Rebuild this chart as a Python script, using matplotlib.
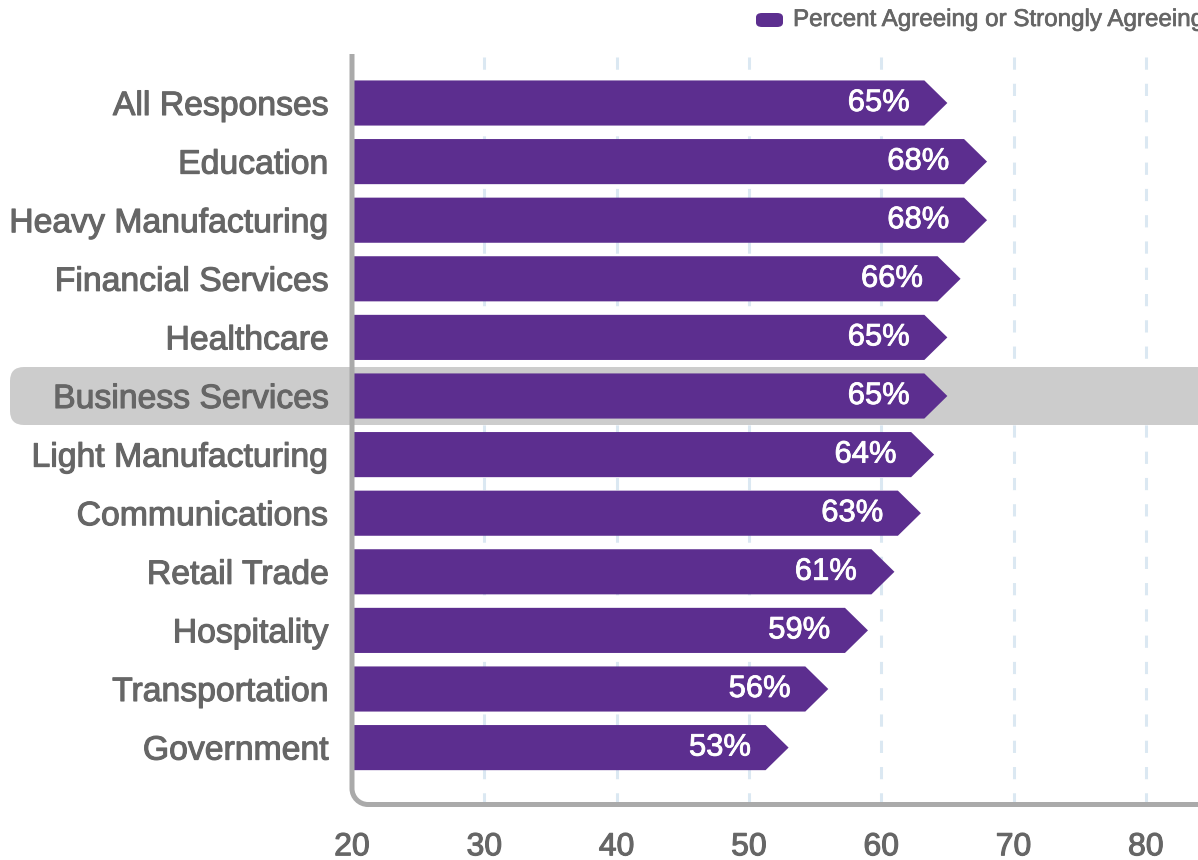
import matplotlib
matplotlib.use("Agg")
import matplotlib.pyplot as plt
import matplotlib.patheffects as pe
from matplotlib.patches import Polygon, FancyBboxPatch, PathPatch
from matplotlib.path import Path
from matplotlib.transforms import IdentityTransform

# --- data -------------------------------------------------------------
categories = [
    "All Responses", "Education", "Heavy Manufacturing", "Financial Services",
    "Healthcare", "Business Services", "Light Manufacturing", "Communications",
    "Retail Trade", "Hospitality", "Transportation", "Government",
]
percent_agree = [65, 68, 68, 66, 65, 65, 64, 63, 61, 59, 56, 53]
x_ticks = [20, 30, 40, 50, 60, 70, 80]
highlighted = "Business Services"
series_name = "Percent Agreeing or Strongly Agreeing"

# --- style ------------------------------------------------------------
PURPLE = "#5c2e8f"
TEXT = "#666666"
AXIS = "#aaaaaa"
GRID = "#dbe8f2"
HILITE = "#cccccc"
FONT = ["Liberation Sans", "DejaVu Sans"]
plt.rcParams["font.family"] = FONT


def heavier(color, w=0.7):
    """Slightly thicken glyphs with a thin outline of the same colour."""
    return [pe.withStroke(linewidth=w, foreground=color)]


W, H, DPI = 1198, 860, 100
fig = plt.figure(figsize=(W / DPI, H / DPI), dpi=DPI)
fig.patch.set_facecolor("white")

ax_left, ax_top, ax_bottom = 352, 54, 804.5
ax = fig.add_axes([ax_left / W, (H - ax_bottom) / H,
                   (W - ax_left) / W, (ax_bottom - ax_top) / H])
px_per_unit = 13.23
ax.set_xlim(x_ticks[0], x_ticks[0] + (W - ax_left) / px_per_unit)
row_px, first_row_px = 58.6, 103
ax.set_ylim((ax_bottom - first_row_px) / row_px, -(first_row_px - ax_top) / row_px)
ax.set_facecolor("none")
for s in ax.spines.values():
    s.set_visible(False)

# dashed vertical grid
for xv in x_ticks[1:]:
    ax.axvline(xv, color=GRID, lw=2.2, ls=(0, (4, 4.6)), zorder=0)

# highlight band behind one category row
fig.canvas.draw()
hi = categories.index(highlighted)
_, yc = ax.transData.transform((x_ticks[0], hi))
band_h = 58
band = FancyBboxPatch((10, yc - band_h / 2), W + 40 - 10, band_h,
                      boxstyle="round,pad=0,rounding_size=14",
                      transform=IdentityTransform(), facecolor=HILITE,
                      edgecolor="none", clip_on=False, zorder=1)
ax.add_patch(band)

# arrow-shaped bars
bar_h = 0.77
tip = 23 / px_per_unit
x0 = x_ticks[0]
for i, v in enumerate(percent_agree):
    verts = [(x0, i - bar_h / 2), (v - tip, i - bar_h / 2), (v, i),
             (v - tip, i + bar_h / 2), (x0, i + bar_h / 2)]
    ax.add_patch(Polygon(verts, closed=True, facecolor=PURPLE,
                         edgecolor="none", zorder=3))
    ax.annotate(f"{v}%", xy=(v, i), xytext=(-27, 0), textcoords="offset points",
                ha="right", va="center", color="white", fontsize=22.3, zorder=4,
                path_effects=heavier("white", 0.6))

# axis line: left + bottom joined with a rounded corner
(lx, by) = ax.transAxes.transform((0, 0))
(_, ty) = ax.transAxes.transform((0, 1))
r = 16
k = 0.55
verts = [(lx, ty), (lx, by + r),
         (lx, by + r * (1 - k)), (lx + r * (1 - k), by), (lx + r, by),
         (W + 20, by)]
codes = [Path.MOVETO, Path.LINETO, Path.CURVE4, Path.CURVE4, Path.CURVE4, Path.LINETO]
ax.add_patch(PathPatch(Path(verts, codes), transform=IdentityTransform(),
                       facecolor="none", edgecolor=AXIS, lw=3.6,
                       capstyle="butt", clip_on=False, zorder=5))

# ticks
ax.set_xticks(x_ticks)
ax.set_xticklabels([str(t) for t in x_ticks])
ax.set_yticks(range(len(categories)))
ax.set_yticklabels(categories)
ax.tick_params(axis="x", length=0, pad=20, labelsize=23, labelcolor=TEXT)
ax.tick_params(axis="y", length=0, pad=17, labelsize=24.3, labelcolor=TEXT)
for lab in ax.get_xticklabels() + ax.get_yticklabels():
    lab.set_path_effects(heavier(TEXT, 0.8))

# legend
fig.patches.append(FancyBboxPatch((756 / W, 1 - 27 / H), 27 / W, 14 / H,
                                  boxstyle="round,pad=0,rounding_size=0.005",
                                  transform=fig.transFigure, facecolor=PURPLE,
                                  edgecolor="none"))
fig.text(793 / W, 1 - 20 / H, series_name, ha="left", va="center",
         fontsize=17.4, color=TEXT, path_effects=heavier(TEXT, 0.5))

fig.savefig("out.png", dpi=DPI)
